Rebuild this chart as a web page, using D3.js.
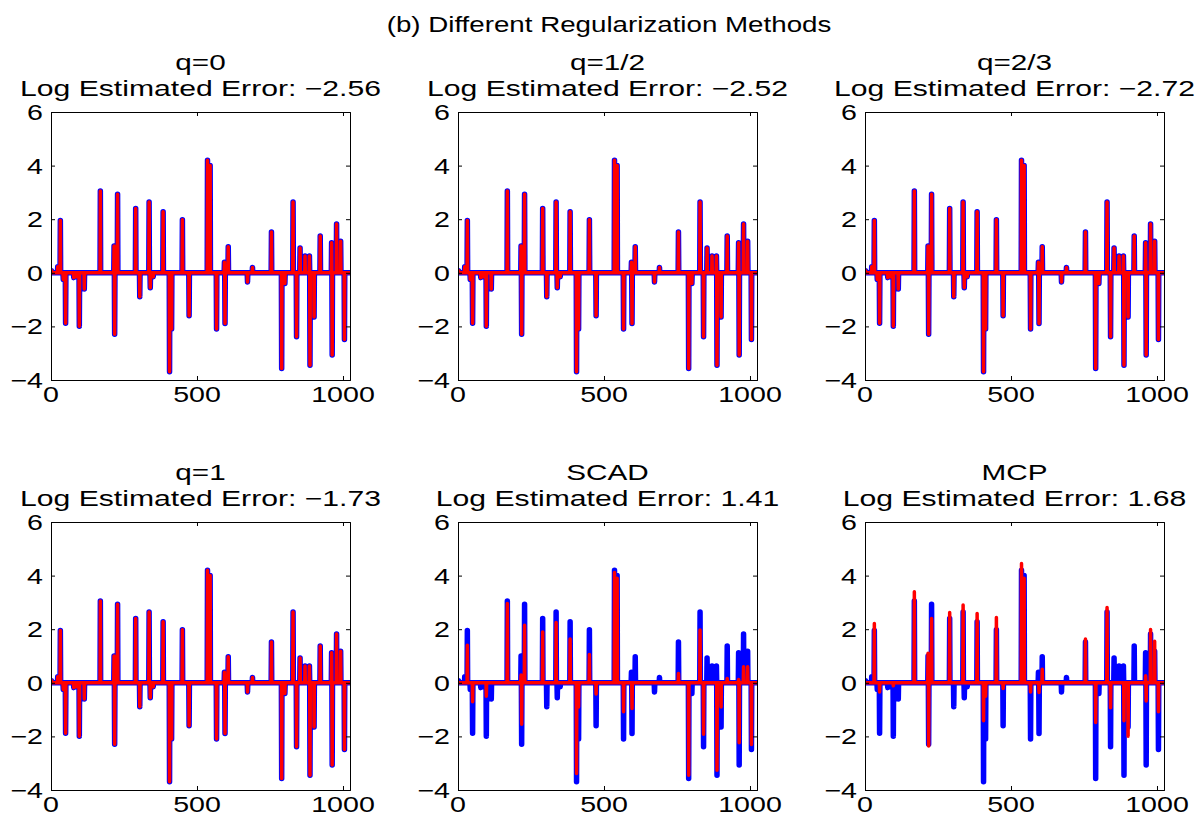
<!DOCTYPE html>
<html>
<head>
<meta charset="utf-8">
<script src="https://cdn.jsdelivr.net/npm/d3@7"></script>
<style>
  body { margin: 0; background: #fff; }
  text { font-family: "Liberation Sans", Arial, Helvetica, sans-serif; fill: #000; }
</style>
</head>
<body>
<div id="chart"></div>
<script>
// sparse signal: positions of the nonzero entries (1..1024)
var spikeIndex = [2, 23, 32, 42, 50, 78, 86, 97, 114, 169, 216, 218, 228, 290, 304, 336, 340, 350,
    384, 406, 413, 450, 473, 536, 545, 567, 594, 596, 607, 673, 690, 755, 790, 801, 829, 841,
    853, 870, 885, 887, 901, 922, 961, 963, 978, 992, 1005];
// true signal (blue)
var trueSignal = [0.08, 0.23, 1.95, -0.25, -1.88, -0.18, -0.15, -1.99, -0.6, 3.05, 1.0, -2.29, 2.93, 2.4, -0.89, 2.64, -0.56, -0.15,
    2.28, -3.69, -2.1, 1.98, -1.6, 4.2, 4.0, -2.1, 0.39, -1.89, 0.97, -0.34, 0.2, 1.52, -3.57, -0.4, 2.64, -2.39,
    0.93, 0.63, 0.63, -3.45, -1.65, 1.37, 1.12, -3.07, 1.82, 1.18, -2.49];
// recovered signals (red); the q-penalties recover the truth visually exactly
var scadEstimate = [0, 0, 1.4, 0, -0.71, 0, 0, -0.5, 0, 2.96, 0.29, -1.55, 2.15, 1.9, 0, 2.25, 0, 0,
    1.63, -3.38, -0.9, 1.06, -0.42, 4.12, 3.9, -1.08, 0, -0.96, 0, 0, 0, 0.35, -3.45, 0, 1.97, -1.92,
    0, 0, 0, -3.26, -0.9, 0.16, 0.12, -2.24, 0.6, 0.6, -2.3];
var mcpEstimate = [0, 0, 2.21, 0, -0.34, 0, 0, -0.11, 0, 3.4, 1.1, -2.36, 2.4, 2.62, 0, 2.9, 0, 0,
    2.59, -1.42, -0.5, 2.44, -0.21, 4.45, 3.9, -0.34, 0, -0.36, 0.51, 0, 0, 1.63, -1.48, 0, 2.81, -0.93,
    0, 0, 0, -1.42, -1.99, 0, 0.26, -0.68, 1.99, 1.55, -1.08];

var panelNames = ["q=0", "q=1/2", "q=2/3", "q=1", "SCAD", "MCP"];
var logErrors = [-2.56, -2.52, -2.72, -1.73, 1.41, 1.68];
var estimates = [trueSignal, trueSignal, trueSignal, trueSignal, scadEstimate, mcpEstimate];
var xTicks = [0, 500, 1000];
var yTicks = [-4, -2, 0, 2, 4, 6];
var signalLength = 1024;

var w = 1202, h = 823;
var colLeft = [51, 458, 865];
var rowTop = [112, 522];
var pw = 299, ph = 268;

var svg = d3.select("#chart").append("svg")
    .attr("width", w)
    .attr("height", h);

function fmt(v) {
    return (v < 0 ? "\u2212" : "") + d3.format(".2f")(Math.abs(v));
}
function tickFmt(v) {
    return (v < 0 ? "\u2212" : "") + Math.abs(v);
}

// glyphs in the reference are drawn wide, so stretch horizontally
function label(g, x, y, str, anchor, stretch) {
    g.append("g")
        .attr("transform", "translate(" + x + "," + y + ") scale(" + (stretch || 1.3) + ",1)")
        .append("text")
        .attr("text-anchor", anchor || "middle")
        .style("font-size", "22px")
        .text(str);
}

function dense(vals) {
    var arr = d3.range(signalLength).map(function () { return 0; });
    spikeIndex.forEach(function (k, i) { arr[k - 1] = vals[i]; });
    return arr.map(function (v, i) { return [i + 1, v]; });
}

label(svg, 609, 32, "(b) Different Regularization Methods", "middle", 1.26);

var trueData = dense(trueSignal);

panelNames.forEach(function (name, p) {
    var x0 = colLeft[p % 3], y0 = rowTop[Math.floor(p / 3)];
    var g = svg.append("g").attr("transform", "translate(" + x0 + "," + y0 + ")");

    var xScale = d3.scaleLinear().domain([0, signalLength]).range([0, pw]);
    var yScale = d3.scaleLinear().domain([-4, 6]).range([ph, 0]);

    label(g, pw / 2, -42, name, "middle", 1.35);
    label(g, pw / 2, -16, "Log Estimated Error: " + fmt(logErrors[p]), "middle", 1.37);

    g.append("clipPath").attr("id", "clip" + p)
        .append("rect").attr("width", pw).attr("height", ph);

    var line = d3.line()
        .x(function (d) { return xScale(d[0]); })
        .y(function (d) { return yScale(d[1]); });

    var plot = g.append("g").attr("clip-path", "url(#clip" + p + ")");
    plot.append("path")
        .datum(trueData)
        .attr("d", line)
        .attr("fill", "none")
        .attr("stroke", "#0000ff")
        .attr("stroke-width", 5.5)
        .attr("stroke-linejoin", "round")
        .attr("stroke-linecap", "round");
    plot.append("path")
        .datum(dense(estimates[p]))
        .attr("d", line)
        .attr("fill", "none")
        .attr("stroke", "#ff0000")
        .attr("stroke-width", 3.5)
        .attr("stroke-linejoin", "round")
        .attr("stroke-linecap", "round");

    // axes, ticks pointing inward on all four sides
    var tl = 4;
    g.append("g").attr("transform", "translate(0," + ph + ")")
        .call(d3.axisBottom(xScale).tickValues(xTicks).tickSize(-tl).tickFormat(""));
    g.append("g")
        .call(d3.axisTop(xScale).tickValues(xTicks).tickSize(-tl).tickFormat(""));
    g.append("g")
        .call(d3.axisLeft(yScale).tickValues(yTicks).tickSize(-tl).tickFormat(""));
    g.append("g").attr("transform", "translate(" + pw + ",0)")
        .call(d3.axisRight(yScale).tickValues(yTicks).tickSize(-tl).tickFormat(""));
    g.selectAll(".domain").attr("stroke", "#000");
    g.selectAll(".tick line").attr("stroke", "#000");

    xTicks.forEach(function (t) {
        label(g, xScale(t), ph + 22, String(t));
    });
    yTicks.forEach(function (t) {
        label(g, -8, yScale(t) + 8, tickFmt(t), "end");
    });
});
</script>
</body>
</html>
